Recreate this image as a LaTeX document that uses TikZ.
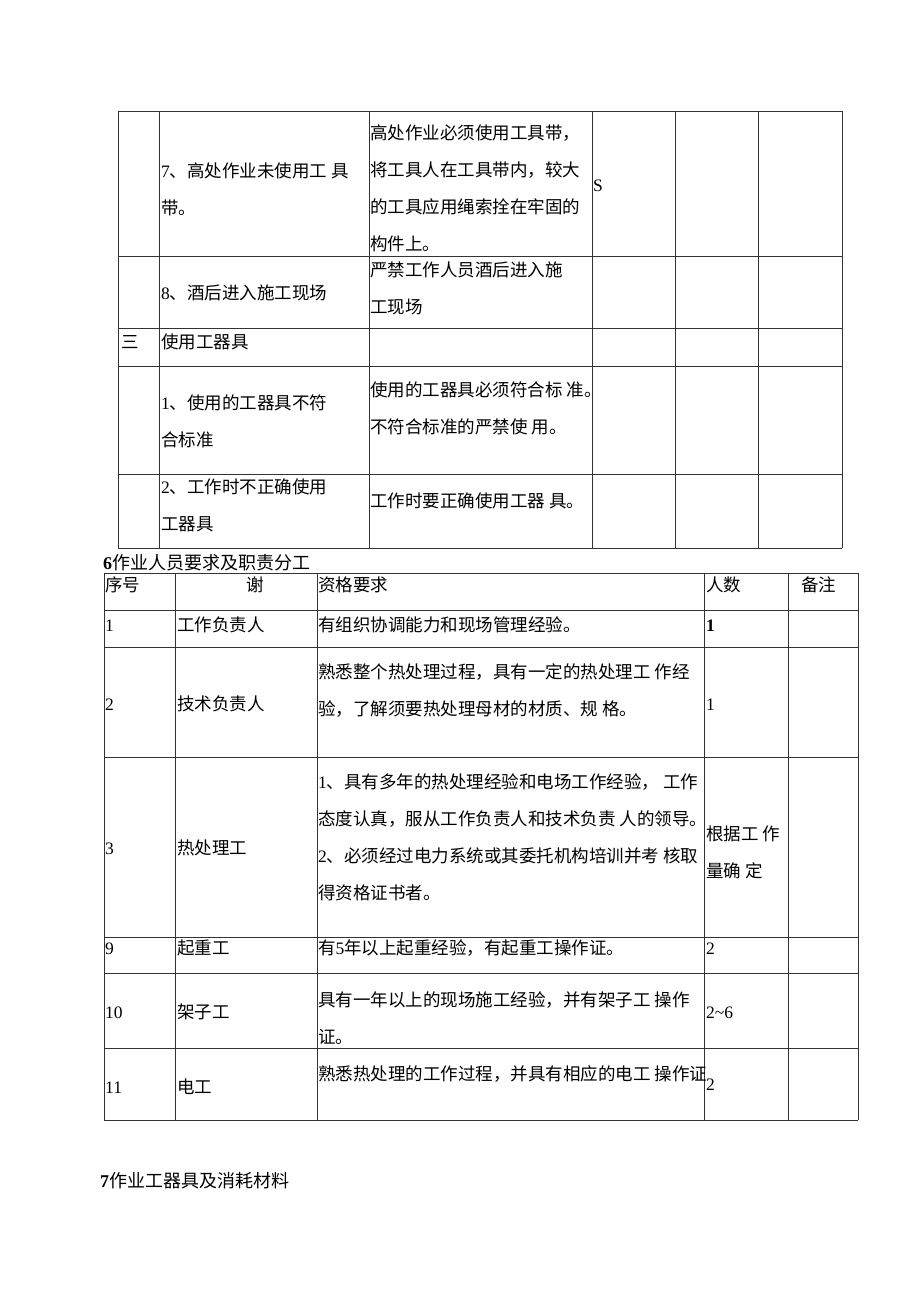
\documentclass[tikz,border=0pt]{standalone}
\usepackage{fontspec}
\setmainfont{Liberation Serif}
\newfontfamily\cjk{Noto Sans CJK SC}
\newcommand{\latn}[1]{{\rmfamily #1}}
\tikzset{
  rule/.style={draw=black!80, line width=0.8pt, line cap=rect},
  % multi-line cells sit on the baseline of their last line
  cell/.style={anchor=base west, inner sep=0pt, align=left,
    font=\cjk\fontsize{17.5}{37}\selectfont},
  title/.style={anchor=base west, inner sep=0pt,
    font=\cjk\fontsize{18}{22}\selectfont}
}

\begin{document}
\begin{tikzpicture}[x=1pt,y=-1pt]
  \useasboundingbox[fill=white] (0,0) rectangle (920,1301);

  % upper table (continued from the page before)
  \foreach \x in {118,159,369,592,675,758,842}
    \draw[rule] (\x,111) -- (\x,548);
  \foreach \y in {111,256,328,366,474,548}
    \draw[rule] (118,\y) -- (842,\y);

  \node[cell] (belt) at (161,214) {\latn{7}、高处作业未使用工 具\\带。};
  \node[cell] (beltrule) at (370,250.5) {高处作业必须使用工具带，\\将工具人在工具带内，较大\\的工具应用绳索拴在牢固的\\构件上。};
  \node[cell] (beltgrade) at (593,191) {\latn{S}};
  \node[cell] (drink) at (161,299.5) {\latn{8}、酒后进入施工现场};
  \node[cell] (drinkrule) at (370,313.5) {严禁工作人员酒后进入施\\工现场};
  \node[cell] (secno) at (121,348.5) {三};
  \node[cell] (sec) at (161,348.5) {使用工器具};
  \node[cell] (tool) at (161,446.5) {\latn{1}、使用的工器具不符\\合标准};
  \node[cell] (toolrule) at (370,433.5) {使用的工器具必须符合标 准。\\不符合标准的严禁使 用。};
  \node[cell] (use) at (161,530.5) {\latn{2}、工作时不正确使用\\工器具};
  \node[cell] (userule) at (370,507.5) {工作时要正确使用工器 具。};

  % section 6
  \node[title] (sixhead) at (103,569) {\latn{\bfseries 6}作业人员要求及职责分工};

  \foreach \x in {104,175,317,704,788,858}
    \draw[rule] (\x,573) -- (\x,1120);
  \foreach \y in {573,610,647,757,937,973,1048,1120}
    \draw[rule] (104,\y) -- (858,\y);

  % header row
  \node[cell] (hno) at (105,591.5) {序号};
  \node[cell] (hjob) at (246,591.5) {谢};
  \node[cell] (hreq) at (318,591.5) {资格要求};
  \node[cell] (hnum) at (706,591.5) {人数};
  \node[cell] (hnote) at (801,591.5) {备注};

  % rows
  \node[cell] (no1) at (105,631.5) {\latn{1}};
  \node[cell] (job1) at (177,631.5) {工作负责人};
  \node[cell] (req1) at (318,631.5) {有组织协调能力和现场管理经验。};
  \node[cell] (num1) at (706,631.5) {\latn{\bfseries 1}};

  \node[cell] (no2) at (105,710.5) {\latn{2}};
  \node[cell] (job2) at (177,710.5) {技术负责人};
  \node[cell] (req2) at (318,715) {熟悉整个热处理过程，具有一定的热处理工 作经\\验，了解须要热处理母材的材质、规 格。};
  \node[cell] (num2) at (706,710.5) {\latn{1}};

  \node[cell] (no3) at (105,854.5) {\latn{3}};
  \node[cell] (job3) at (177,854.5) {热处理工};
  \node[cell] (req3) at (318,899.5) {\latn{1}、具有多年的热处理经验和电场工作经验， 工作\\态度认真，服从工作负责人和技术负责 人的领导。\\\latn{2}、必须经过电力系统或其委托机构培训并考 核取\\得资格证书者。};
  \node[cell] (num3) at (706,877) {根据工 作\\量确 定};

  \node[cell] (no9) at (105,954.5) {\latn{9}};
  \node[cell] (job9) at (177,954.5) {起重工};
  \node[cell] (req9) at (318,954.5) {有\latn{5}年以上起重经验，有起重工操作证。};
  \node[cell] (num9) at (706,954.5) {\latn{2}};

  \node[cell] (no10) at (105,1018.5) {\latn{10}};
  \node[cell] (job10) at (177,1018.5) {架子工};
  \node[cell] (req10) at (318,1043) {具有一年以上的现场施工经验，并有架子工 操作\\证。};
  \node[cell] (num10) at (706,1018.5) {\latn{2\textasciitilde 6}};

  \node[cell] (no11) at (105,1093.5) {\latn{11}};
  \node[cell] (job11) at (177,1093.5) {电工};
  \node[cell] (req11) at (318,1080.5) {熟悉热处理的工作过程，并具有相应的电工 操作证};
  \node[cell] (num11) at (706,1090.5) {\latn{2}};

  % section 7
  \node[title] (sevenhead) at (100,1187) {\latn{\bfseries 7}作业工器具及消耗材料};
\end{tikzpicture}
\end{document}
